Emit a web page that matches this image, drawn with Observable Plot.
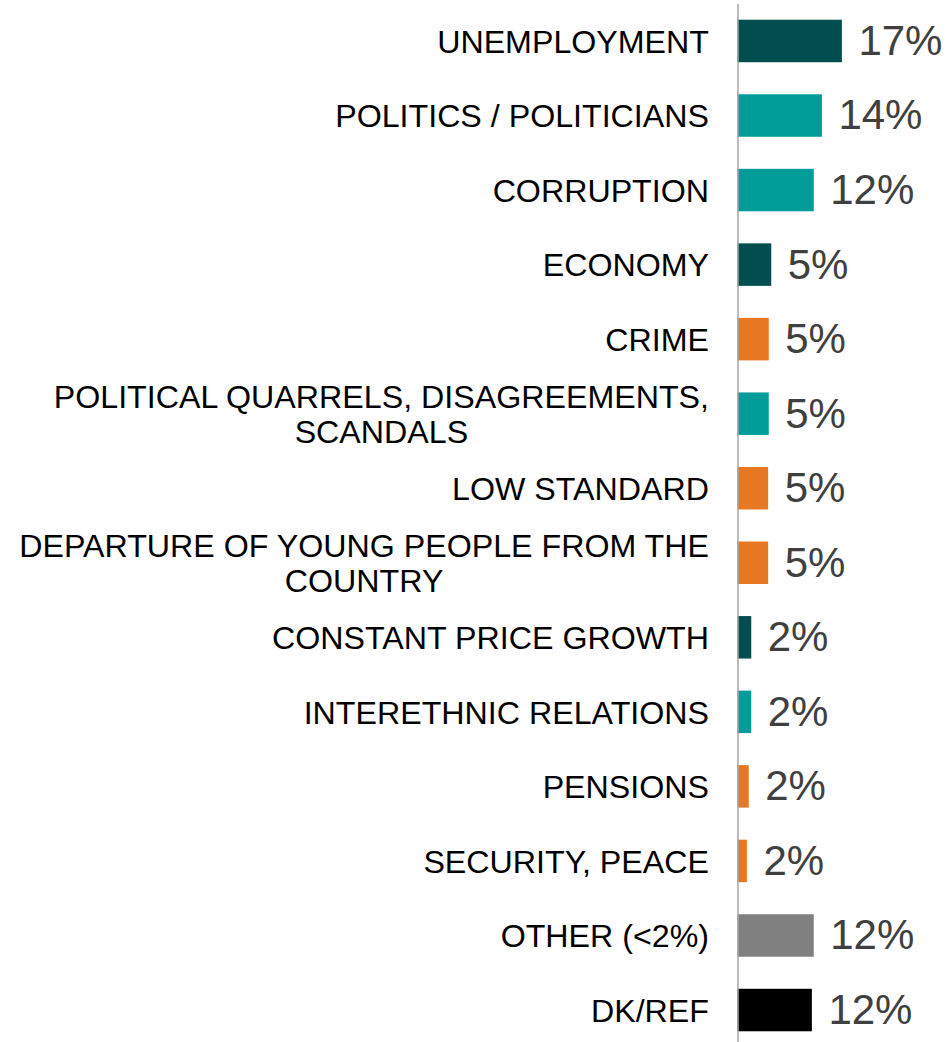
<!DOCTYPE html>
<html>
<head>
<meta charset="utf-8">
<script src="https://cdn.jsdelivr.net/npm/d3@7"></script>
<script src="https://cdn.jsdelivr.net/npm/@observablehq/plot@0.6"></script>
<style>
  html, body { margin: 0; padding: 0; background: #ffffff; }
  #chart svg { display: block; font-family: "Liberation Sans", Arial, sans-serif; }
</style>
</head>
<body>
<div id="chart"></div>
<script>
const categories = [
  "UNEMPLOYMENT",
  "POLITICS / POLITICIANS",
  "CORRUPTION",
  "ECONOMY",
  "CRIME",
  "POLITICAL QUARRELS, DISAGREEMENTS,\nSCANDALS",
  "LOW STANDARD",
  "DEPARTURE OF YOUNG PEOPLE FROM THE\nCOUNTRY",
  "CONSTANT PRICE GROWTH",
  "INTERETHNIC RELATIONS",
  "PENSIONS",
  "SECURITY, PEACE",
  "OTHER (<2%)",
  "DK/REF"
];
const values = [16.7, 13.5, 12.2, 5.4, 5.0, 5.0, 4.9, 4.9, 2.2, 2.2, 1.8, 1.5, 12.2, 11.9];
const groups = ["economy", "politics", "politics", "economy", "social", "politics", "social", "social", "economy", "politics", "social", "social", "other", "dk"];
const groupNames = ["economy", "politics", "social", "other", "dk"];
const groupColors = ["#024d4d", "#009d99", "#e87722", "#808080", "#000000"];

const data = categories.map((c, i) => ({category: c, value: values[i], group: groups[i]}));

const chart = Plot.plot({
  width: 949,
  height: 1042,
  marginLeft: 737,
  marginRight: 12,
  marginTop: 4,
  marginBottom: 0,
  style: {fontFamily: '"Liberation Sans", Arial, sans-serif', background: "#ffffff"},
  x: {domain: [0, 32], range: [737.5, 937.5], axis: null},
  y: {domain: categories, range: [3.7, 1047.3], paddingInner: 0.43, paddingOuter: 0.215, round: false, axis: null},
  color: {domain: groupNames, range: groupColors},
  marks: [
    Plot.barX(data, {y: "category", x: "value", fill: "group"}),
    Plot.ruleX([0], {stroke: "#a6a6a6", strokeWidth: 1.5}),
    Plot.text(data, {
      y: "category", x: 0, text: "category",
      textAnchor: "end", dx: -29, fontSize: 32.2, lineHeight: 1.1, fill: "#000000"
    }),
    Plot.text(data, {
      y: "category", x: "value", text: d => Math.round(d.value) + "%",
      textAnchor: "start", dx: 16, fontSize: 42, fill: "#404040"
    })
  ]
});

document.getElementById("chart").appendChild(chart);

// center multi-line category labels within their right-aligned block
chart.querySelectorAll("text").forEach(t => {
  const spans = t.querySelectorAll("tspan");
  if (spans.length > 1) {
    let maxW = 0;
    spans.forEach(s => { maxW = Math.max(maxW, s.getComputedTextLength()); });
    t.setAttribute("text-anchor", "middle");
    spans.forEach(s => s.setAttribute("x", -maxW / 2));
  }
});
</script>
</body>
</html>
